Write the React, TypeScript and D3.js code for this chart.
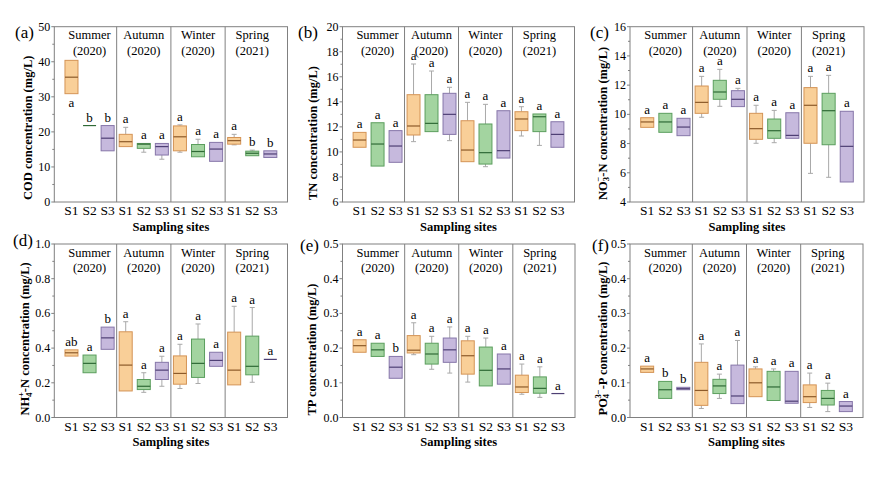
import React, { useRef, useEffect } from 'react';
import * as d3 from 'd3';

// categories
const seasonNames = ['Summer', 'Autumn', 'Winter', 'Spring'];
const seasonYears = ['(2020)', '(2020)', '(2020)', '(2021)'];
const siteNames = ['S1', 'S2', 'S3'];

// box stats per season/site: [min, q1, median, q3, max]
const codBoxes = [
  [30.9, 30.9, 35.6, 40.4, 40.4], [21.8, 21.8, 21.8, 21.8, 21.8], [14.6, 14.6, 18.2, 21.8, 21.8],
  [15.8, 15.8, 17.2, 19.3, 21.3], [14.2, 15.3, 16.5, 16.7, 16.7], [12.2, 13.4, 15.8, 16.7, 16.7],
  [14.2, 14.6, 18.6, 21.7, 22.0], [12.9, 12.9, 14.4, 16.4, 17.9], [11.6, 11.6, 15.1, 17.0, 17.0],
  [16.3, 16.5, 17.5, 18.4, 19.3], [13.2, 13.2, 13.9, 14.5, 14.8], [12.7, 12.7, 13.7, 14.6, 14.6],
];
const codLetters = ['a', 'b', 'b', 'a', 'a', 'a', 'a', 'a', 'a', 'a', 'b', 'b'];

const tnBoxes = [
  [10.37, 10.37, 10.95, 11.56, 11.56], [8.87, 8.87, 10.63, 12.33, 12.33], [9.17, 9.17, 10.47, 11.7, 11.7],
  [10.82, 11.35, 12.07, 14.57, 17.02], [11.62, 11.62, 12.28, 14.57, 16.46], [10.9, 11.4, 13.0, 14.68, 15.16],
  [9.22, 9.22, 10.15, 12.49, 13.96], [8.82, 9.03, 9.94, 12.23, 13.8], [9.51, 9.51, 10.1, 13.29, 13.29],
  [11.27, 11.7, 12.63, 13.21, 13.61], [10.52, 11.62, 12.81, 13.03, 13.03], [10.37, 10.37, 11.4, 12.41, 12.41],
];
const tnLetters = ['a', 'a', 'a', 'a', 'a', 'a', 'a', 'a', 'a', 'a', 'a', 'a'];

const no3Boxes = [
  [9.11, 9.11, 9.48, 9.77, 9.77], [8.77, 8.77, 9.48, 10.07, 10.07], [8.54, 8.54, 9.13, 9.73, 9.73],
  [9.8, 10.07, 10.82, 11.94, 12.6], [10.55, 11.03, 11.53, 12.33, 13.08], [10.53, 10.53, 11.03, 11.62, 11.78],
  [8.02, 8.29, 9.02, 10.07, 10.62], [8.06, 8.36, 8.88, 9.68, 10.27], [8.36, 8.36, 8.56, 10.11, 10.11],
  [5.96, 8.02, 10.62, 11.83, 12.6], [5.69, 7.92, 10.25, 11.44, 12.67], [5.37, 5.37, 7.81, 10.21, 10.21],
];
const no3Letters = ['a', 'a', 'a', 'a', 'a', 'a', 'a', 'a', 'a', 'a', 'a', 'a'];

const nh4Boxes = [
  [0.354, 0.354, 0.373, 0.39, 0.39], [0.258, 0.258, 0.312, 0.36, 0.36], [0.393, 0.393, 0.459, 0.521, 0.521],
  [0.153, 0.153, 0.302, 0.494, 0.552], [0.145, 0.161, 0.18, 0.219, 0.258], [0.18, 0.219, 0.273, 0.318, 0.353],
  [0.167, 0.192, 0.254, 0.355, 0.422], [0.196, 0.231, 0.312, 0.452, 0.539], [0.295, 0.295, 0.329, 0.376, 0.376],
  [0.188, 0.188, 0.273, 0.492, 0.641], [0.203, 0.246, 0.295, 0.469, 0.634], [0.335, 0.335, 0.335, 0.335, 0.335],
];
const nh4Letters = ['ab', 'a', 'b', 'a', 'a', 'a', 'a', 'a', 'a', 'a', 'a', 'a'];

const tpBoxes = [
  [0.188, 0.188, 0.207, 0.224, 0.224], [0.176, 0.176, 0.195, 0.214, 0.214], [0.113, 0.113, 0.145, 0.176, 0.176],
  [0.181, 0.186, 0.194, 0.236, 0.273], [0.139, 0.154, 0.183, 0.214, 0.234], [0.128, 0.159, 0.195, 0.229, 0.261],
  [0.102, 0.125, 0.178, 0.221, 0.234], [0.091, 0.091, 0.136, 0.203, 0.229], [0.096, 0.096, 0.14, 0.183, 0.183],
  [0.067, 0.072, 0.088, 0.122, 0.154], [0.058, 0.07, 0.084, 0.117, 0.146], [0.069, 0.069, 0.069, 0.069, 0.069],
];
const tpLetters = ['a', 'a', 'b', 'a', 'a', 'a', 'a', 'a', 'a', 'a', 'a', 'a'];

const po4Boxes = [
  [0.13, 0.13, 0.14, 0.148, 0.148], [0.055, 0.055, 0.08, 0.104, 0.104], [0.08, 0.08, 0.083, 0.087, 0.087],
  [0.026, 0.035, 0.078, 0.159, 0.212], [0.055, 0.069, 0.091, 0.11, 0.125], [0.04, 0.04, 0.062, 0.151, 0.222],
  [0.06, 0.06, 0.1, 0.14, 0.146], [0.049, 0.049, 0.088, 0.133, 0.14], [0.041, 0.041, 0.047, 0.133, 0.133],
  [0.029, 0.043, 0.06, 0.094, 0.128], [0.017, 0.036, 0.055, 0.078, 0.099], [0.017, 0.017, 0.033, 0.046, 0.046],
];
const po4Letters = ['a', 'b', 'b', 'a', 'a', 'a', 'a', 'a', 'a', 'a', 'a', 'a'];

const fills = ['#f9cf98', '#a3d4a0', '#c6b9dd'];
const strokes = ['#d49456', '#5b9e5e', '#8676a9'];
const medians = ['#8c5a2a', '#2f6a36', '#4e3f74'];
const FONT = '"Liberation Serif", "Times New Roman", serif';

// title parts: [text, kind] kind: n normal, sub, sup
const panels = [
  { tag: '(a)', boxes: codBoxes, letters: codLetters, below: [0], domain: [0, 50], nt: 5, fmt: 'd',
    title: [['COD concentration (mg/L)', 'n']],
    x0: 54.3, x1: 287.5, y0: 26.7, y1: 202, titleX: 28, tagX: 15, tagY: 38 },
  { tag: '(b)', boxes: tnBoxes, letters: tnLetters, below: [], domain: [6, 20], nt: 7, fmt: 'd',
    title: [['TN concentration (mg/L)', 'n']],
    x0: 342.5, x1: 574.5, y0: 26.7, y1: 202, titleX: 312.5, tagX: 298, tagY: 38 },
  { tag: '(c)', boxes: no3Boxes, letters: no3Letters, below: [], domain: [4, 16], nt: 6, fmt: 'd',
    title: [['NO', 'n'], ['3', 'sub'], ['−', 'sup'], ['-N concentration (mg/L)', 'n']],
    x0: 630, x1: 864, y0: 26.7, y1: 202, titleX: 602.5, tagX: 590, tagY: 38 },
  { tag: '(d)', boxes: nh4Boxes, letters: nh4Letters, below: [], domain: [0, 1], nt: 5, fmt: '.1f',
    title: [['NH', 'n'], ['4', 'sub'], ['+', 'sup'], ['-N concentration (mg/L)', 'n']],
    x0: 54.3, x1: 287.5, y0: 244, y1: 417.5, titleX: 25, tagX: 13, tagY: 246 },
  { tag: '(e)', boxes: tpBoxes, letters: tpLetters, below: [], domain: [0, 0.5], nt: 5, fmt: '.1f',
    title: [['TP concentration (mg/L)', 'n']],
    x0: 342.5, x1: 575, y0: 244, y1: 417.5, titleX: 311.7, tagX: 300, tagY: 251 },
  { tag: '(f)', boxes: po4Boxes, letters: po4Letters, below: [], domain: [0, 0.5], nt: 5, fmt: '.1f',
    title: [['PO', 'n'], ['4', 'sub'], ['3−', 'sup'], ['-P concentration (mg/L)', 'n']],
    x0: 630, x1: 863, y0: 244, y1: 417.5, titleX: 602.5, tagX: 592, tagY: 251 },
];

const App = () => {
  const svgRef = useRef(null);

  useEffect(() => {
    const svg = d3.select(svgRef.current);
    svg.selectAll('*').remove();

    panels.forEach((p) => {
      const g = svg.append('g');
      const x = d3.scaleLinear().domain([0.05, 12.95]).range([p.x0, p.x1]);
      const y = d3.scaleLinear().domain(p.domain).range([p.y1, p.y0]);
      const bw = (x(1) - x(0)) * 0.72;
      const capW = 5;

      // frame
      g.append('rect')
        .attr('x', p.x0).attr('y', p.y0)
        .attr('width', p.x1 - p.x0).attr('height', p.y1 - p.y0)
        .attr('fill', 'none').attr('stroke', '#808080').attr('stroke-width', 1);

      // season dividers
      [3.5, 6.5, 9.5].forEach((d) => {
        g.append('line')
          .attr('x1', x(d)).attr('x2', x(d))
          .attr('y1', p.y0).attr('y2', p.y1)
          .attr('stroke', '#808080').attr('stroke-width', 1);
      });

      // season labels
      seasonNames.forEach((s, k) => {
        const cx = x(k * 3 + 2);
        g.append('text').attr('x', cx).attr('y', p.y0 + 12.5)
          .attr('text-anchor', 'middle').style('font-family', FONT).style('font-size', '12.5px')
          .text(s);
        g.append('text').attr('x', cx).attr('y', p.y0 + 28)
          .attr('text-anchor', 'middle').style('font-family', FONT).style('font-size', '12.5px')
          .text(seasonYears[k]);
      });

      // y ticks
      const major = y.ticks(p.nt);
      const minor = y.ticks(p.nt * 2).filter((t) => !major.some((m) => Math.abs(m - t) < 1e-9));
      const fmt = d3.format(p.fmt);
      major.forEach((t) => {
        g.append('line').attr('x1', p.x0 - 3).attr('x2', p.x0)
          .attr('y1', y(t)).attr('y2', y(t)).attr('stroke', '#808080');
        g.append('text').attr('x', p.x0 - 4).attr('y', y(t))
          .attr('text-anchor', 'end').attr('dominant-baseline', 'central')
          .style('font-family', FONT).style('font-size', '12px')
          .text(fmt(t));
      });
      minor.forEach((t) => {
        g.append('line').attr('x1', p.x0 - 2).attr('x2', p.x0)
          .attr('y1', y(t)).attr('y2', y(t)).attr('stroke', '#808080');
      });

      // x tick labels
      p.boxes.forEach((b, i) => {
        g.append('text').attr('x', x(i + 1)).attr('y', p.y1 + 13)
          .attr('text-anchor', 'middle')
          .style('font-family', FONT).style('font-size', '13.5px')
          .text(siteNames[i % 3]);
      });

      // x title
      g.append('text').attr('x', (p.x0 + p.x1) / 2).attr('y', p.y1 + 28.5)
        .attr('text-anchor', 'middle')
        .style('font-family', FONT).style('font-size', '12.5px').style('font-weight', 'bold')
        .text('Sampling sites');

      // y title
      const yt = g.append('text')
        .attr('transform', `translate(${p.titleX},${p.y1 - 2}) rotate(-90)`)
        .attr('dominant-baseline', 'central')
        .style('font-family', FONT).style('font-size', '12.5px').style('font-weight', 'bold');
      let prevSub = false;
      p.title.forEach(([t, kind]) => {
        const ts = yt.append('tspan').text(t);
        if (kind === 'sub') {
          ts.attr('dy', 3.5).style('font-size', '8.5px');
          prevSub = true;
        } else if (kind === 'sup') {
          ts.attr('dy', -8).attr('dx', prevSub ? -4.5 : 0).style('font-size', '8.5px');
        } else if (prevSub) {
          ts.attr('dy', 4.5);
          prevSub = false;
        }
      });

      // panel tag
      g.append('text').attr('x', p.tagX).attr('y', p.tagY)
        .style('font-family', FONT).style('font-size', '17px')
        .text(p.tag);

      // boxes
      p.boxes.forEach((b, i) => {
        const [mn, q1, md, q3, mx] = b;
        const cx = x(i + 1);
        const c = i % 3;
        // whiskers
        if (mx > q3) {
          g.append('line').attr('x1', cx).attr('x2', cx).attr('y1', y(q3)).attr('y2', y(mx))
            .attr('stroke', '#a9a9a9');
          g.append('line').attr('x1', cx - capW / 2).attr('x2', cx + capW / 2)
            .attr('y1', y(mx)).attr('y2', y(mx)).attr('stroke', '#a9a9a9');
        }
        if (mn < q1) {
          g.append('line').attr('x1', cx).attr('x2', cx).attr('y1', y(q1)).attr('y2', y(mn))
            .attr('stroke', '#a9a9a9');
          g.append('line').attr('x1', cx - capW / 2).attr('x2', cx + capW / 2)
            .attr('y1', y(mn)).attr('y2', y(mn)).attr('stroke', '#a9a9a9');
        }
        if (q3 - q1 > 0) {
          g.append('rect').attr('x', cx - bw / 2).attr('y', y(q3))
            .attr('width', bw).attr('height', Math.max(y(q1) - y(q3), 1))
            .attr('fill', fills[c]).attr('stroke', strokes[c]).attr('stroke-width', 1);
        }
        g.append('line').attr('x1', cx - bw / 2).attr('x2', cx + bw / 2)
          .attr('y1', y(md)).attr('y2', y(md))
          .attr('stroke', medians[c]).attr('stroke-width', 1.2);

        // significance letter
        const below = p.below.includes(i);
        g.append('text').attr('x', cx)
          .attr('y', below ? y(mn) + 13 : y(mx) - 4)
          .attr('text-anchor', 'middle')
          .style('font-family', FONT).style('font-size', '13px')
          .text(p.letters[i]);
      });
    });
  }, []);

  return (
    <svg ref={svgRef} width={886} height={477}
      style={{ position: 'absolute', left: 0, top: 0, background: '#fff' }} />
  );
};

export default App;
